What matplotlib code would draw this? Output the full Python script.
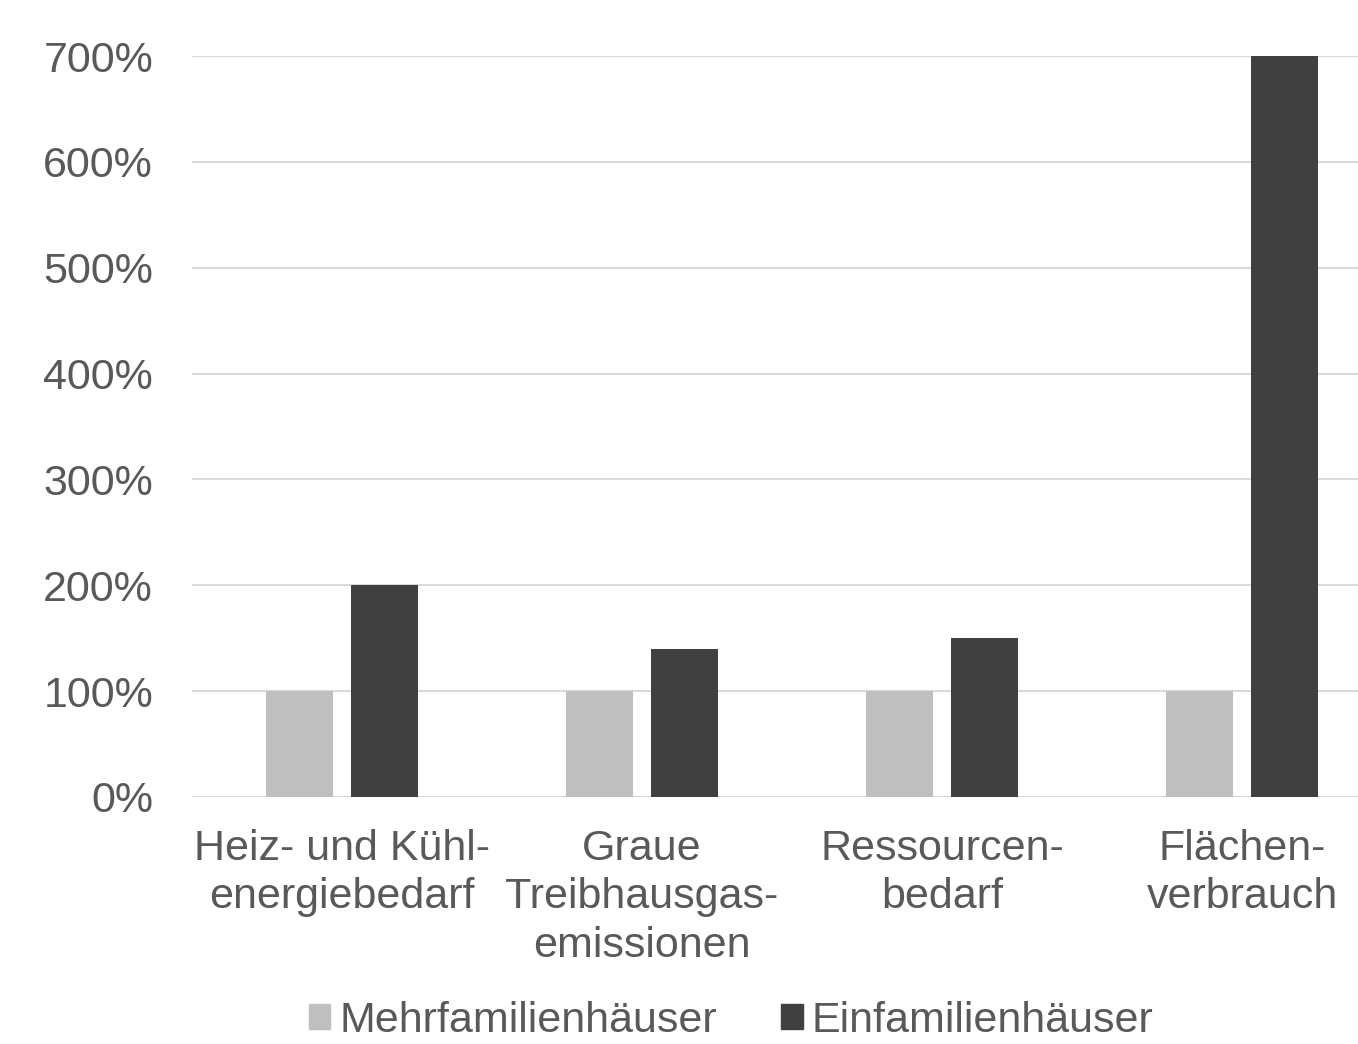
import numpy as np
import matplotlib.pyplot as plt
from matplotlib.patches import Patch
from matplotlib.ticker import FuncFormatter

plt.rcParams['font.family'] = ['Liberation Sans', 'DejaVu Sans']

categories = ["Heiz- und Kühl-\nenergiebedarf", "Graue\nTreibhausgas-\nemissionen",
              "Ressourcen-\nbedarf", "Flächen-\nverbrauch"]
mehrfamilien = [100, 100, 100, 100]
einfamilien = [200, 140, 150, 700]
series_names = ["Mehrfamilienhäuser", "Einfamilienhäuser"]

light = '#BFBFBF'
dark = '#404040'
textc = '#595959'
gridc = '#D9D9D9'

W, H = 1358, 1044
fig = plt.figure(figsize=(W / 100, H / 100), dpi=100)
ax = fig.add_axes([192 / W, (H - 797) / H, 1200 / W, (797 - 56) / H])

x = np.arange(len(categories))
bw = 0.223
ax.bar(x - 0.142, mehrfamilien, bw, color=light, zorder=3)
ax.bar(x + 0.142, einfamilien, bw, color=dark, zorder=3)

ax.set_xlim(-0.5, 3.5)
ax.set_ylim(0, 700)
ax.set_yticks(np.arange(0, 701, 100))
ax.yaxis.set_major_formatter(FuncFormatter(lambda v, p: f"{int(v)}%"))
ax.grid(axis='y', color=gridc, linewidth=1.5, zorder=0)
for s in ax.spines.values():
    s.set_visible(False)
ax.axhline(0, color=gridc, linewidth=1.5, zorder=1)

ax.set_xticks(x)
ax.set_xticklabels(categories, linespacing=1.27)
ax.tick_params(axis='both', length=0, labelsize=31, colors=textc)
ax.tick_params(axis='x', pad=23)
ax.tick_params(axis='y', pad=28)
for lab in ax.get_yticklabels():
    lab.set_ha('right')

handles = [Patch(color=light), Patch(color=dark)]
fig.legend(handles, series_names, loc='center', bbox_to_anchor=(731 / W, 1 - 1021 / H),
           ncol=2, frameon=False, fontsize=31, labelcolor=textc,
           handlelength=0.5, handleheight=0.5, handletextpad=0.2, columnspacing=1.5)

fig.savefig('out.png', dpi=100)
